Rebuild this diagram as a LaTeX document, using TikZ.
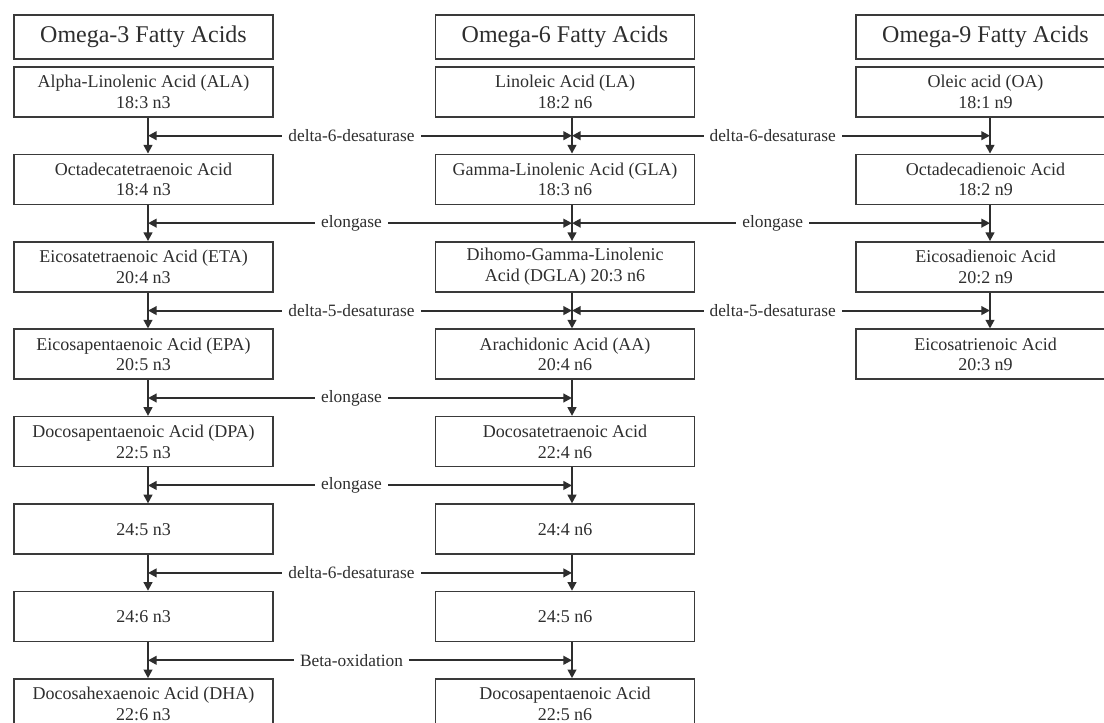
\documentclass[tikz,border=0pt]{standalone}
\usepackage{fontspec}
\setmainfont{Liberation Serif}
\usetikzlibrary{arrows.meta,calc}
\definecolor{ink}{HTML}{2E2E2E}
\definecolor{edge}{HTML}{3A3A3A}
\tikzset{
  box/.style={draw=edge, line width=1.2pt, fill=white, minimum width=194.25pt, minimum height=37.5pt,
    inner sep=0pt, align=center, text=ink, font=\fontsize{13.5}{15.5}\selectfont},
  headbox/.style={box, minimum height=33pt, font=\fontsize{18}{22}\selectfont},
  varrow/.style={draw=ink, line width=1.5pt, -{Triangle[length=6.5pt,width=6.5pt]}},
  harrow/.style={draw=ink, line width=1.5pt, {Triangle[length=6.5pt,width=6.5pt]}-{Triangle[length=6.5pt,width=6.5pt]}},
  lab/.style={fill=white, text=ink, inner xsep=4.5pt, inner ysep=1pt, pos=0.48, font=\fontsize{13}{15}\selectfont}
}
\begin{document}
\begin{tikzpicture}[x=0.75pt,y=-0.75pt]
\useasboundingbox (0,0) rectangle (1104,723);
\fill[white] (0,0) rectangle (1104,723);
\clip (0,0) rectangle (1104,723);
\coordinate (c1) at (148,0);
\coordinate (c2) at (572,0);
\coordinate (c3) at (990,0);
% headers
\node[headbox] (h1) at (143.5,37) {Omega-3 Fatty Acids};
\node[headbox] (h2) at (565,37) {Omega-6 Fatty Acids};
\node[headbox] (h3) at (985.5,37) {Omega-9 Fatty Acids};
% column 1
\node[box] (a0) at (143.5,92) {Alpha-Linolenic Acid (ALA)\\18:3 n3};
\node[box] (a1) at (143.5,179.4) {Octadecatetraenoic Acid\\18:4 n3};
\node[box] (a2) at (143.5,266.9) {Eicosatetraenoic Acid (ETA)\\20:4 n3};
\node[box] (a3) at (143.5,354.3) {Eicosapentaenoic Acid (EPA)\\20:5 n3};
\node[box] (a4) at (143.5,441.7) {Docosapentaenoic Acid (DPA)\\22:5 n3};
\node[box] (a5) at (143.5,529.2) {24:5 n3};
\node[box] (a6) at (143.5,616.6) {24:6 n3};
\node[box] (a7) at (143.5,704) {Docosahexaenoic Acid (DHA)\\22:6 n3};
% column 2
\node[box] (b0) at (565,92) {Linoleic Acid (LA)\\18:2 n6};
\node[box] (b1) at (565,179.4) {Gamma-Linolenic Acid (GLA)\\18:3 n6};
\node[box] (b2) at (565,266.9) {Dihomo-Gamma-Linolenic\\Acid (DGLA) 20:3 n6};
\node[box] (b3) at (565,354.3) {Arachidonic Acid (AA)\\20:4 n6};
\node[box] (b4) at (565,441.7) {Docosatetraenoic Acid\\22:4 n6};
\node[box] (b5) at (565,529.2) {24:4 n6};
\node[box] (b6) at (565,616.6) {24:5 n6};
\node[box] (b7) at (565,704) {Docosapentaenoic Acid\\22:5 n6};
% column 3
\node[box] (d0) at (985.5,92) {Oleic acid (OA)\\18:1 n9};
\node[box] (d1) at (985.5,179.4) {Octadecadienoic Acid\\18:2 n9};
\node[box] (d2) at (985.5,266.9) {Eicosadienoic Acid\\20:2 n9};
\node[box] (d3) at (985.5,354.3) {Eicosatrienoic Acid\\20:3 n9};
% vertical arrows
\foreach \i/\j in {0/1,1/2,2/3,3/4,4/5,5/6,6/7}{
  \draw[varrow] (a\i.south -| c1) -- (a\j.north -| c1);
  \draw[varrow] (b\i.south -| c2) -- (b\j.north -| c2);
}
\foreach \i/\j in {0/1,1/2,2/3}{
  \draw[varrow] (d\i.south -| c3) -- (d\j.north -| c3);
}
% horizontal enzyme arrows
\foreach \i/\j/\t in {0/1/delta-6-desaturase,1/2/elongase,2/3/delta-5-desaturase,3/4/elongase,4/5/elongase,5/6/delta-6-desaturase,6/7/Beta-oxidation}{
  \coordinate (m\i) at ($(a\i.south)!0.5!(a\j.north)$);
  \draw[harrow] (m\i -| c1) -- node[lab]{\t} (m\i -| c2);
}
\foreach \i/\t in {0/delta-6-desaturase,1/elongase,2/delta-5-desaturase}{
  \draw[harrow] (m\i -| c2) -- node[lab]{\t} (m\i -| c3);
}
\end{tikzpicture}
\end{document}
